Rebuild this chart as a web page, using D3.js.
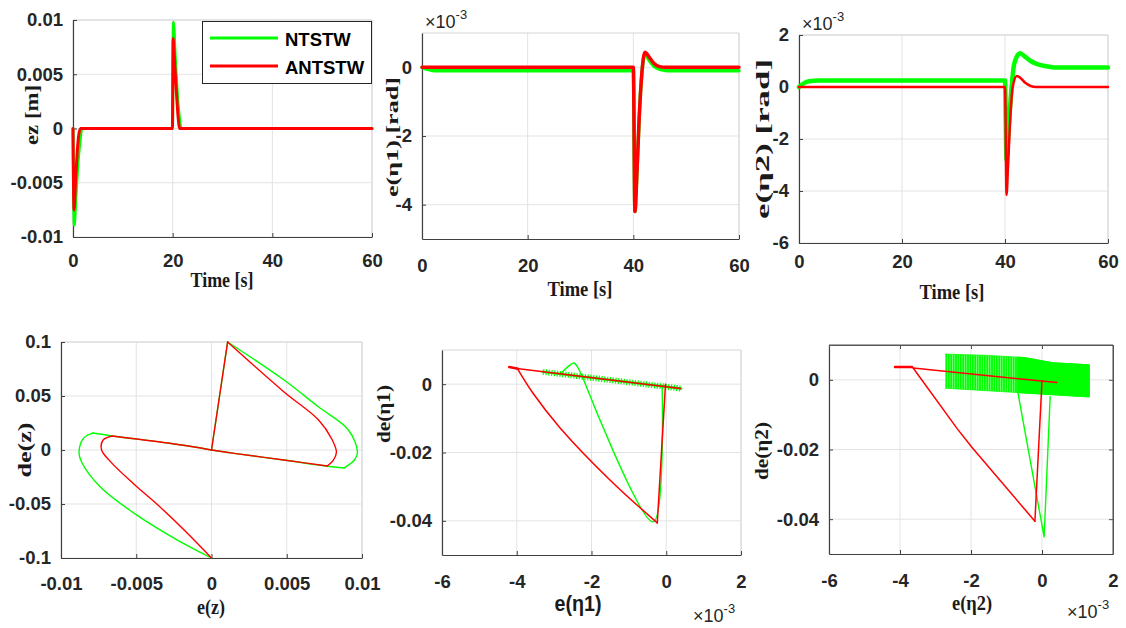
<!DOCTYPE html>
<html>
<head>
<meta charset="utf-8">
<script src="https://cdn.jsdelivr.net/npm/d3@7"></script>
<style>
  body { margin: 0; background: #fff; }
  svg { display: block; }
</style>
</head>
<body>
<div id="content"></div>
<script>
var Width = 1126;
var Height = 628;
var green = "#00ff00";
var red = "#ff0000";

// ---- 图1: ez 随时间 ----
var ezT_ntstw = [0, 0.25, 0.6, 1.0, 1.4, 1.8, 19.95, 20.15, 20.5, 20.9, 21.3, 21.7, 60];
var ez_ntstw = [0, -0.0089, -0.0062, -0.0032, -0.0012, 0, 0, 0.0098, 0.0068, 0.0035, 0.0012, 0, 0];
var ezT_antstw = [0, 0.2, 0.5, 0.8, 1.1, 1.5, 19.95, 20.1, 20.4, 20.8, 21.1, 21.4, 60];
var ez_antstw = [0, -0.0075, -0.005, -0.0025, -0.0008, 0, 0, 0.0083, 0.006, 0.003, 0.001, 0, 0];

// ---- 图2: e(η1), x10^-3 ----
var e1T_ntstw = [0, 1, 2, 3, 40, 40.3, 40.7, 41.1, 41.6, 42.2, 43, 44, 45, 46, 47, 60];
var e1_ntstw = [0, -0.06, -0.09, -0.1, -0.1, -4.2, -3.0, -1.5, -0.2, 0.38, 0.2, 0.02, -0.06, -0.09, -0.1, -0.1];
var e1T_antstw = [0, 40, 40.3, 40.7, 41.1, 41.6, 42.2, 43, 44, 45, 46, 60];
var e1_antstw = [0, 0, -4.2, -3.0, -1.5, -0.2, 0.44, 0.3, 0.1, 0.02, 0, 0];

// ---- 图3: e(η2), x10^-3 ----
var e2T_ntstw = [0, 1, 2, 4, 40, 40.3, 40.7, 41.2, 41.8, 42.9, 44, 45, 46, 48, 50, 60];
var e2_ntstw = [0, 0.15, 0.22, 0.25, 0.25, -2.8, -1.6, -0.2, 0.9, 1.3, 1.15, 1.0, 0.9, 0.8, 0.75, 0.75];
var e2T_antstw = [0, 40, 40.3, 40.6, 41, 41.5, 42.3, 43, 44, 45, 46, 60];
var e2_antstw = [0, 0, -4.15, -3.0, -1.3, 0, 0.42, 0.35, 0.15, 0.04, 0, 0];

// ---- 图4: 相图 e(z) - de(z), 每段 [e, de] ----
var pz_ntstw = [
  [[0, -0.1], [-0.0025, -0.0815], [-0.0052, -0.058], [-0.0074, -0.034], [-0.0086, -0.012], [-0.0088, -0.002], [-0.0085, 0.011], [-0.0079, 0.0157]],
  [[-0.0079, 0.0157], [-0.0066, 0.013], [-0.0029, 0.0065], [-0.0007, 0.0019], [0, 0]],
  [[0, 0], [0.00107, 0.1]],
  [[0.00107, 0.1], [0.0048, 0.065], [0.0071, 0.04], [0.0091, 0.0185], [0.0097, -0.002], [0.0095, -0.0093], [0.0088, -0.0167]],
  [[0.0088, -0.0167], [0.0076, -0.0148], [0.0048, -0.0093], [0.0015, -0.0031], [0, 0]]
];
var pz_antstw = [
  [[0, -0.1], [-0.0016, -0.077], [-0.0034, -0.053], [-0.0052, -0.031], [-0.0067, -0.011], [-0.0073, 0], [-0.0072, 0.0093], [-0.0066, 0.013]],
  [[-0.0066, 0.013], [-0.0029, 0.0065], [-0.0007, 0.0019], [0, 0]],
  [[0, 0], [0.00107, 0.1]],
  [[0.00107, 0.1], [0.0048, 0.054], [0.0071, 0.028], [0.008, 0.01], [0.0083, -0.002], [0.0081, -0.0093], [0.0077, -0.0148]],
  [[0.0077, -0.0148], [0.0048, -0.0093], [0.0015, -0.0031], [0, 0]]
];

// ---- 图5: 相图 e(η1) (x10^-3) - de(η1) ----
var p1_ntstw_band = [[-3.3, 0.0036], [0.4, -0.0013]];
var p1_ntstw = [
  [[-2.8, 0.0033], [-2.62, 0.0052], [-2.47, 0.0062], [-2.36, 0.0048], [-2.23, 0.0018]],
  [[-2.23, 0.0018], [-0.35, -0.0403], [-0.11, -0.0006]]
];
var p1_antstw = [
  [[-0.02, 0], [-0.24, -0.0406]],
  [[-0.24, -0.0406], [-1.5, -0.0281], [-2.84, -0.0128], [-3.57, -0.0026], [-3.97, 0.0043]],
  [[-4.0, 0.0046], [0.38, -0.0013]]
];
var p1_antstw_hook = [[-4.2, 0.005], [-3.97, 0.0045]];

// ---- 图6: 相图 e(η2) (x10^-3) - de(η2) ----
var p2_ntstw_bandTop = [[-2.73, 0.0074], [-1.5, 0.007], [-0.5, 0.0064], [0.3, 0.0049], [1.33, 0.0043]];
var p2_ntstw_bandBottom = [[1.33, -0.0049], [-2.73, -0.0024]];
var p2_bandSolidFrom = -0.7;
var p2_ntstw = [
  [[-0.68, -0.0036], [0.06, -0.0451], [0.23, -0.0048]]
];
var p2_antstw = [
  [[0, -0.0003], [-0.2, -0.0406]],
  [[-0.2, -0.0406], [-1.97, -0.0194], [-2.39, -0.014], [-3.63, 0.0034]],
  [[-3.63, 0.0034], [0.42, -0.0008]]
];
var p2_antstw_hook = [[-4.14, 0.0037], [-3.66, 0.0037]];

var legendNames = ["NTSTW", "ANTSTW"];

var svg = d3
  .select("#content")
  .append("svg")
  .attr("width", Width)
  .attr("height", Height);

// 竖线纹理 (图6 振荡带)
var defs = svg.append("defs");
defs.append("pattern")
  .attr("id", "hatch")
  .attr("patternUnits", "userSpaceOnUse")
  .attr("width", 2.4)
  .attr("height", 10)
  .append("rect")
  .attr("width", 2)
  .attr("height", 10)
  .attr("fill", green);

var sansFont = "'Liberation Sans', Arial, sans-serif";
var serifFont = "'Liberation Serif', 'Times New Roman', serif";

function zip(ts, vs) {
  return ts.map(function (t, i) {
    return [t, vs[i]];
  });
}

// 画一个子图的坐标轴、网格
function makePanel(p) {
  var x = d3.scaleLinear().domain(p.xdom).range([p.x0, p.x1]);
  var y = d3.scaleLinear().domain(p.ydom).range([p.y1, p.y0]);
  var g = svg.append("g");

  // 网格
  g.selectAll(".gx")
    .data(p.xticks)
    .enter()
    .append("line")
    .attr("x1", function (d) { return x(d); })
    .attr("x2", function (d) { return x(d); })
    .attr("y1", p.y0)
    .attr("y2", p.y1)
    .attr("stroke", "#e3e3e3")
    .attr("stroke-width", 1);
  g.selectAll(".gy")
    .data(p.yticks)
    .enter()
    .append("line")
    .attr("x1", p.x0)
    .attr("x2", p.x1)
    .attr("y1", function (d) { return y(d); })
    .attr("y2", function (d) { return y(d); })
    .attr("stroke", "#e3e3e3")
    .attr("stroke-width", 1);

  // 上/右边框
  var boxColor = p.darkBox ? "#555" : "#d6d6d6";
  g.append("path")
    .attr("d", "M" + p.x0 + "," + p.y0 + "H" + p.x1 + "V" + p.y1)
    .attr("fill", "none")
    .attr("stroke", boxColor)
    .attr("stroke-width", 1);

  var xAxis = d3.axisBottom(x).tickValues(p.xticks).tickSize(-4).tickSizeOuter(0)
    .tickPadding(p.xpad).tickFormat(String);
  var yAxis = d3.axisLeft(y).tickValues(p.yticks).tickSize(-4).tickSizeOuter(0)
    .tickPadding(10).tickFormat(String);

  var gx = g.append("g").attr("transform", "translate(0," + p.y1 + ")").call(xAxis);
  var gy = g.append("g").attr("transform", "translate(" + p.x0 + ",0)").call(yAxis);
  [gx, gy].forEach(function (a) {
    a.select(".domain").attr("stroke", "#404040").attr("stroke-width", 1.2);
    a.selectAll(".tick line").attr("stroke", "#404040");
    a.selectAll("text")
      .attr("fill", "#262626")
      .style("font-family", sansFont)
      .style("font-size", "18.5px")
      .style("font-weight", "bold");
  });

  if (p.darkBox) {
    var tAxis = d3.axisTop(x).tickValues(p.xticks).tickSize(-4).tickSizeOuter(0).tickFormat("");
    var rAxis = d3.axisRight(y).tickValues(p.yticks).tickSize(-4).tickSizeOuter(0).tickFormat("");
    var gt = g.append("g").attr("transform", "translate(0," + p.y0 + ")").call(tAxis);
    var gr = g.append("g").attr("transform", "translate(" + p.x1 + ",0)").call(rAxis);
    [gt, gr].forEach(function (a) {
      a.select(".domain").attr("stroke", "#555");
      a.selectAll(".tick line").attr("stroke", "#555");
    });
  }
  return { x: x, y: y, g: g };
}

function drawLine(ax, pts, color, width, curve, dash) {
  var line = d3.line()
    .x(function (d) { return ax.x(d[0]); })
    .y(function (d) { return ax.y(d[1]); })
    .curve(curve || d3.curveLinear);
  var path = ax.g.append("path")
    .datum(pts)
    .attr("d", line)
    .attr("fill", "none")
    .attr("stroke", color)
    .attr("stroke-width", width)
    .attr("stroke-linejoin", "round");
  if (dash) path.attr("stroke-dasharray", dash);
  else path.attr("stroke-linecap", "round");
}

function label(t, x, y, opt) {
  var el = svg.append("text")
    .attr("x", x)
    .attr("y", y)
    .attr("text-anchor", "middle")
    .attr("fill", "#1a1a1a")
    .style("font-family", opt.font || serifFont)
    .style("font-size", (opt.size || 21) + "px")
    .style("font-weight", "bold")
    .text(t);
  if (opt.rotate) el.attr("transform", "rotate(-90," + x + "," + y + ")");
  if (opt.len) el.attr("textLength", opt.len).attr("lengthAdjust", "spacingAndGlyphs");
}

function expLabel(x, y) {
  var t = svg.append("text")
    .attr("x", x)
    .attr("y", y)
    .attr("fill", "#262626")
    .style("font-family", sansFont)
    .style("font-size", "18px");
  t.append("tspan").text("\u00d710");
  t.append("tspan").attr("dy", -9).style("font-size", "13px").text("-3");
}

// ---- 图1 ----
var ax1 = makePanel({
  x0: 73, x1: 372, y0: 20, y1: 237, xpad: 17,
  xdom: [0, 60], ydom: [-0.01, 0.01],
  xticks: [0, 20, 40, 60], yticks: [-0.01, -0.005, 0, 0.005, 0.01]
});
drawLine(ax1, zip(ezT_ntstw, ez_ntstw), green, 3, d3.curveMonotoneX);
drawLine(ax1, zip(ezT_antstw, ez_antstw), red, 3, d3.curveMonotoneX);
label("Time [s]", 222, 287, { len: 63 });
label("ez [m]", 38, 115, { rotate: true, size: 18, len: 60 });

// 图例
var lg = svg.append("g");
lg.append("rect")
  .attr("x", 202.5).attr("y", 21.5).attr("width", 169).attr("height", 62)
  .attr("fill", "#fff").attr("stroke", "#262626").attr("stroke-width", 1);
legendNames.forEach(function (name, i) {
  var yy = 38 + i * 28;
  lg.append("line")
    .attr("x1", 210).attr("x2", 278).attr("y1", yy).attr("y2", yy)
    .attr("stroke", i === 0 ? green : red).attr("stroke-width", 3);
  lg.append("text")
    .attr("x", 285).attr("y", yy + 8)
    .attr("fill", "#000")
    .style("font-family", sansFont)
    .style("font-size", "18.5px")
    .style("font-weight", "bold")
    .text(name);
});

// ---- 图2 ----
var ax2 = makePanel({
  x0: 422, x1: 739, y0: 33, y1: 239, xpad: 20,
  xdom: [0, 60], ydom: [-5, 1],
  xticks: [0, 20, 40, 60], yticks: [-4, -2, 0]
});
drawLine(ax2, zip(e1T_ntstw, e1_ntstw), green, 3.5, d3.curveMonotoneX);
drawLine(ax2, zip(e1T_antstw, e1_antstw), red, 3.5, d3.curveMonotoneX);
label("Time [s]", 580, 296, { len: 65 });
label("e(\u03b71) [rad]", 398, 137, { rotate: true, size: 17, len: 120 });
expLabel(425, 28);

// ---- 图3 ----
var ax3 = makePanel({
  x0: 799, x1: 1108, y0: 35, y1: 243, xpad: 12,
  xdom: [0, 60], ydom: [-6, 2],
  xticks: [0, 20, 40, 60], yticks: [-6, -4, -2, 0, 2]
});
drawLine(ax3, zip(e2T_ntstw, e2_ntstw), green, 4.5, d3.curveMonotoneX);
drawLine(ax3, zip(e2T_antstw, e2_antstw), red, 2.5, d3.curveMonotoneX);
label("Time [s]", 952, 299, { len: 65 });
label("e(\u03b72) [rad]", 769, 139, { rotate: true, size: 18, len: 160 });
expLabel(802, 30);

// ---- 图4 ----
var ax4 = makePanel({
  x0: 61, x1: 362, y0: 342, y1: 558, xpad: 19,
  xdom: [-0.01, 0.01], ydom: [-0.1, 0.1],
  xticks: [-0.01, -0.005, 0, 0.005, 0.01], yticks: [-0.1, -0.05, 0, 0.05, 0.1]
});
pz_ntstw.forEach(function (s) { drawLine(ax4, s, green, 1.4, d3.curveCatmullRom.alpha(0.5)); });
pz_antstw.forEach(function (s) { drawLine(ax4, s, red, 1.4, d3.curveCatmullRom.alpha(0.5)); });
label("e(z)", 211, 614, { len: 28 });
label("de(z)", 31, 450, { rotate: true, size: 18, len: 55 });

// ---- 图5 ----
var ax5 = makePanel({
  x0: 442, x1: 741, y0: 350, y1: 555, xpad: 20,
  xdom: [-6, 2], ydom: [-0.05, 0.01],
  xticks: [-6, -4, -2, 0, 2], yticks: [-0.04, -0.02, 0]
});
drawLine(ax5, p1_ntstw_band, green, 2.5);
drawLine(ax5, p1_ntstw_band, green, 6, null, "1.2,1.6");
p1_ntstw.forEach(function (s) { drawLine(ax5, s, green, 1.4, d3.curveCatmullRom.alpha(0.5)); });
p1_antstw.forEach(function (s) { drawLine(ax5, s, red, 1.5, d3.curveCatmullRom.alpha(0.5)); });
drawLine(ax5, p1_antstw_hook, red, 2.5);
label("e(\u03b71)", 578, 611, { font: sansFont, size: 22, len: 47 });
label("de(\u03b71)", 390, 414, { rotate: true, size: 18, len: 58 });
expLabel(693, 622);

// ---- 图6 ----
var ax6 = makePanel({
  x0: 829, x1: 1113, y0: 345, y1: 554, xpad: 20, darkBox: true,
  xdom: [-6, 2], ydom: [-0.05, 0.01],
  xticks: [-6, -4, -2, 0, 2], yticks: [-0.04, -0.02, 0]
});
var bandLine = d3.line()
  .x(function (d) { return ax6.x(d[0]); })
  .y(function (d) { return ax6.y(d[1]); });
var bandPts = p2_ntstw_bandTop.concat(p2_ntstw_bandBottom);
defs.append("clipPath")
  .attr("id", "solidPart")
  .append("rect")
  .attr("x", ax6.x(p2_bandSolidFrom)).attr("y", 0)
  .attr("width", Width).attr("height", Height);
ax6.g.append("path")
  .datum(bandPts)
  .attr("d", bandLine)
  .attr("fill", "url(#hatch)")
  .attr("stroke", green)
  .attr("stroke-width", 0.8);
ax6.g.append("path")
  .datum(bandPts)
  .attr("d", bandLine)
  .attr("clip-path", "url(#solidPart)")
  .attr("fill", green)
  .attr("stroke", green)
  .attr("stroke-width", 1);
p2_ntstw.forEach(function (s) { drawLine(ax6, s, green, 1.4); });
p2_antstw.forEach(function (s) { drawLine(ax6, s, red, 1.5); });
drawLine(ax6, p2_antstw_hook, red, 2.5);
label("e(\u03b72)", 972, 610, { len: 40 });
label("de(\u03b72)", 768, 451, { rotate: true, size: 18, len: 58 });
expLabel(1067, 618);
</script>
</body>
</html>
